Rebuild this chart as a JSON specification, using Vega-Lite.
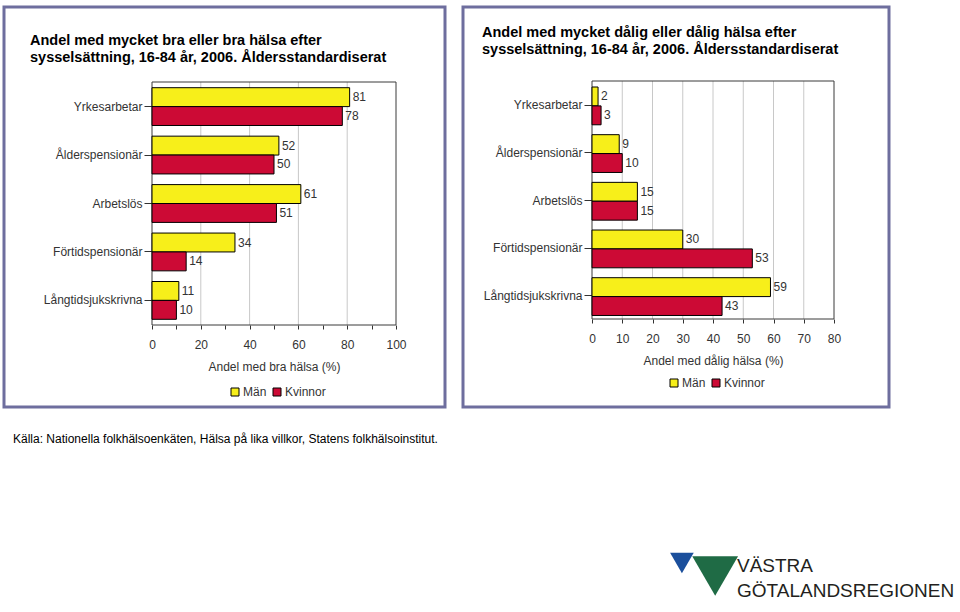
{
  "$schema": "https://vega.github.io/schema/vega-lite/v6.json",
  "padding": {"left": 2, "top": 5, "right": 0, "bottom": 0},
  "datasets": {
    "bra": [
      {"grupp": "Yrkesarbetar", "kon": "Män", "v": 81},
      {"grupp": "Yrkesarbetar", "kon": "Kvinnor", "v": 78},
      {"grupp": "Ålderspensionär", "kon": "Män", "v": 52},
      {"grupp": "Ålderspensionär", "kon": "Kvinnor", "v": 50},
      {"grupp": "Arbetslös", "kon": "Män", "v": 61},
      {"grupp": "Arbetslös", "kon": "Kvinnor", "v": 51},
      {"grupp": "Förtidspensionär", "kon": "Män", "v": 34},
      {"grupp": "Förtidspensionär", "kon": "Kvinnor", "v": 14},
      {"grupp": "Långtidsjukskrivna", "kon": "Män", "v": 11},
      {"grupp": "Långtidsjukskrivna", "kon": "Kvinnor", "v": 10}
    ],
    "dalig": [
      {"grupp": "Yrkesarbetar", "kon": "Män", "v": 2},
      {"grupp": "Yrkesarbetar", "kon": "Kvinnor", "v": 3},
      {"grupp": "Ålderspensionär", "kon": "Män", "v": 9},
      {"grupp": "Ålderspensionär", "kon": "Kvinnor", "v": 10},
      {"grupp": "Arbetslös", "kon": "Män", "v": 15},
      {"grupp": "Arbetslös", "kon": "Kvinnor", "v": 15},
      {"grupp": "Förtidspensionär", "kon": "Män", "v": 30},
      {"grupp": "Förtidspensionär", "kon": "Kvinnor", "v": 53},
      {"grupp": "Långtidsjukskrivna", "kon": "Män", "v": 59},
      {"grupp": "Långtidsjukskrivna", "kon": "Kvinnor", "v": 43}
    ]
  },
  "vconcat": [
    {
      "hconcat": [
        {
          "width": 441,
          "height": 400,
          "view": {"stroke": "#6E6E9E", "strokeWidth": 3},
          "title": {
            "text": ["Andel med mycket bra eller bra hälsa efter", "sysselsättning, 16-84 år, 2006. Åldersstandardiserat"],
            "anchor": "start", "frame": "group", "dx": 26, "offset": -58.5,
            "fontSize": 14.5, "fontWeight": "bold", "lineHeight": 17
          },
          "resolve": {"scale": {"y": "independent"}},
          "layer": [
            {
              "layer": [
                {
                  "data": {"values": [{"g": 20}, {"g": 40}, {"g": 60}, {"g": 80}]},
                  "mark": {"type": "rule", "color": "#c8c8c8", "strokeWidth": 1},
                  "encoding": {
                    "x": {"field": "g", "type": "quantitative",
                      "scale": {"domain": [0, 100], "range": [148, 392], "nice": false, "zero": false},
                      "axis": {"orient": "bottom", "values": [0, 10, 20, 30, 40, 50, 60, 70, 80, 90, 100], "labelExpr": "datum.value % 20 === 0 ? datum.label : ''", "labelFlush": false, "offset": -82, "domain": false, "grid": false, "tickSize": 4, "labelPadding": 10, "titlePadding": 11, "titleX": 270, "titleAlign": "center", "title": "Andel med bra hälsa (%)"}},
                    "y": {"datum": 0, "type": "quantitative", "scale": {"domain": [0, 1], "range": [318, 75], "nice": false, "zero": false}, "axis": null},
                    "y2": {"datum": 1}
                  }
                },
                {
                  "data": {"values": [{}]},
                  "mark": {"type": "rect", "fill": null, "stroke": "#3a3a3a", "strokeWidth": 1},
                  "encoding": {
                    "x": {"datum": 0, "type": "quantitative"},
                    "x2": {"datum": 100},
                    "y": {"datum": 0, "type": "quantitative"},
                    "y2": {"datum": 1}
                  }
                }
              ]
            },
            {
              "data": {"name": "bra"},
              "encoding": {
                "y": {"field": "grupp", "type": "nominal",
                  "scale": {"domain": ["Yrkesarbetar", "Ålderspensionär", "Arbetslös", "Förtidspensionär", "Långtidsjukskrivna"], "range": [80.7, 312.3], "paddingInner": 0.22, "paddingOuter": 0},
                  "axis": {"orient": "left", "title": null, "offset": -148, "domain": false, "tickSize": 8, "labelPadding": 2}},
                "yOffset": {"field": "kon", "type": "nominal", "scale": {"domain": ["Män", "Kvinnor"], "paddingInner": 0, "paddingOuter": 0}},
                "x": {"field": "v", "type": "quantitative",
                  "axis": {"orient": "bottom", "values": [0, 10, 20, 30, 40, 50, 60, 70, 80, 90, 100], "labelExpr": "datum.value % 20 === 0 ? datum.label : ''", "labelFlush": false, "offset": -82, "domain": false, "grid": false, "tickSize": 4, "labelPadding": 10, "titlePadding": 11, "titleX": 270, "titleAlign": "center", "title": "Andel med bra hälsa (%)"}}
              },
              "layer": [
                {
                  "mark": {"type": "bar", "stroke": "#000", "strokeWidth": 1},
                  "encoding": {
                    "color": {"field": "kon", "type": "nominal",
                      "scale": {"domain": ["Män", "Kvinnor"], "range": ["#F7EF1A", "#CC0A35"]},
                      "legend": {"orient": "none", "legendX": 225, "legendY": 379, "direction": "horizontal", "title": null, "symbolType": "square", "symbolSize": 64, "symbolStrokeColor": "#000", "symbolStrokeWidth": 1, "columnPadding": 4, "labelOffset": 2}}
                  }
                },
                {
                  "mark": {"type": "text", "align": "left", "baseline": "middle", "dx": 3, "fontSize": 12, "color": "#333"},
                  "encoding": {"text": {"field": "v", "type": "quantitative"}}
                }
              ]
            }
          ]
        },
        {
          "width": 426,
          "height": 400,
          "view": {"stroke": "#6E6E9E", "strokeWidth": 3},
          "title": {
            "text": ["Andel med mycket dålig eller dålig hälsa efter", "sysselsättning, 16-84 år, 2006. Åldersstandardiserat"],
            "anchor": "start", "frame": "group", "dx": 19, "offset": -50.5,
            "fontSize": 14.5, "fontWeight": "bold", "lineHeight": 17
          },
          "resolve": {"scale": {"y": "independent"}},
          "layer": [
            {
              "layer": [
                {
                  "data": {"values": [{"g": 10}, {"g": 20}, {"g": 30}, {"g": 40}, {"g": 50}, {"g": 60}, {"g": 70}]},
                  "mark": {"type": "rule", "color": "#c8c8c8", "strokeWidth": 1},
                  "encoding": {
                    "x": {"field": "g", "type": "quantitative",
                      "scale": {"domain": [0, 80], "range": [129, 371], "nice": false, "zero": false},
                      "axis": {"orient": "bottom", "values": [0, 5, 10, 15, 20, 25, 30, 35, 40, 45, 50, 55, 60, 65, 70, 75, 80], "labelExpr": "datum.value % 10 === 0 ? datum.label : ''", "labelFlush": false, "offset": -88, "domain": false, "grid": false, "tickSize": 4, "labelPadding": 10, "titlePadding": 11, "titleX": 250, "titleAlign": "center", "title": "Andel med dålig hälsa (%)"}},
                    "y": {"datum": 0, "type": "quantitative", "scale": {"domain": [0, 1], "range": [312, 74], "nice": false, "zero": false}, "axis": null},
                    "y2": {"datum": 1}
                  }
                },
                {
                  "data": {"values": [{}]},
                  "mark": {"type": "rect", "fill": null, "stroke": "#3a3a3a", "strokeWidth": 1},
                  "encoding": {
                    "x": {"datum": 0, "type": "quantitative"},
                    "x2": {"datum": 80},
                    "y": {"datum": 0, "type": "quantitative"},
                    "y2": {"datum": 1}
                  }
                }
              ]
            },
            {
              "data": {"name": "dalig"},
              "encoding": {
                "y": {"field": "grupp", "type": "nominal",
                  "scale": {"domain": ["Yrkesarbetar", "Ålderspensionär", "Arbetslös", "Förtidspensionär", "Långtidsjukskrivna"], "range": [80, 307.3], "paddingInner": 0.232, "paddingOuter": 0},
                  "axis": {"orient": "left", "title": null, "offset": -129, "domain": false, "tickSize": 8, "labelPadding": 2}},
                "yOffset": {"field": "kon", "type": "nominal", "scale": {"domain": ["Män", "Kvinnor"], "paddingInner": 0, "paddingOuter": 0}},
                "x": {"field": "v", "type": "quantitative",
                  "axis": {"orient": "bottom", "values": [0, 5, 10, 15, 20, 25, 30, 35, 40, 45, 50, 55, 60, 65, 70, 75, 80], "labelExpr": "datum.value % 10 === 0 ? datum.label : ''", "labelFlush": false, "offset": -88, "domain": false, "grid": false, "tickSize": 4, "labelPadding": 10, "titlePadding": 11, "titleX": 250, "titleAlign": "center", "title": "Andel med dålig hälsa (%)"}}
              },
              "layer": [
                {
                  "mark": {"type": "bar", "stroke": "#000", "strokeWidth": 1},
                  "encoding": {
                    "color": {"field": "kon", "type": "nominal",
                      "scale": {"domain": ["Män", "Kvinnor"], "range": ["#F7EF1A", "#CC0A35"]},
                      "legend": {"orient": "none", "legendX": 205, "legendY": 370, "direction": "horizontal", "title": null, "symbolType": "square", "symbolSize": 64, "symbolStrokeColor": "#000", "symbolStrokeWidth": 1, "columnPadding": 4, "labelOffset": 2}}
                  }
                },
                {
                  "mark": {"type": "text", "align": "left", "baseline": "middle", "dx": 3, "fontSize": 12, "color": "#333"},
                  "encoding": {"text": {"field": "v", "type": "quantitative"}}
                }
              ]
            }
          ]
        }
      ],
      "spacing": 14,
      "resolve": {"scale": {"color": "independent", "x": "independent", "y": "independent"}, "legend": {"color": "independent"}}
    },
    {
      "width": 940,
      "height": 150,
      "title": {
        "text": "Källa: Nationella folkhälsoenkäten, Hälsa på lika villkor, Statens folkhälsoinstitut.",
        "anchor": "start", "frame": "group", "dx": 9, "offset": 2, "fontSize": 12, "fontWeight": "normal"
      },
      "layer": [
        {
          "data": {"values": [{"t": "VÄSTRA", "r": 0}, {"t": "GÖTALANDSREGIONEN", "r": 1}]},
          "mark": {"type": "text", "align": "left", "baseline": "middle", "fontSize": 19, "color": "#231f20"},
          "encoding": {
            "x": {"datum": 0, "type": "quantitative", "scale": {"domain": [0, 1], "range": [733, 937]}, "axis": null},
            "y": {"field": "r", "type": "quantitative", "scale": {"domain": [0, 1], "range": [118, 143]}, "axis": null},
            "text": {"field": "t"}
          }
        },
        {
          "data": {"values": [{}]},
          "mark": {"type": "point", "shape": "triangle-down", "filled": true, "color": "#1B4F9C", "size": 560, "opacity": 1},
          "encoding": {
            "x": {"datum": -0.27, "type": "quantitative"},
            "y": {"datum": -0.12, "type": "quantitative"}
          }
        },
        {
          "data": {"values": [{}]},
          "mark": {"type": "point", "shape": "triangle-down", "filled": true, "color": "#1F6B45", "size": 2100, "opacity": 1},
          "encoding": {
            "x": {"datum": -0.107, "type": "quantitative"},
            "y": {"datum": 0.4, "type": "quantitative"}
          }
        }
      ]
    }
  ],
  "spacing": 24,
  "config": {
    "font": "Liberation Sans",
    "view": {"stroke": null},
    "axis": {"labelFont": "Liberation Sans", "labelFontSize": 12, "labelColor": "#333", "titleFont": "Liberation Sans", "titleFontSize": 12, "titleFontWeight": "normal", "titleColor": "#333", "tickColor": "#333", "grid": false},
    "legend": {"labelFont": "Liberation Sans", "labelFontSize": 12, "labelColor": "#333"},
    "title": {"font": "Liberation Sans", "color": "#000"}
  }
}
